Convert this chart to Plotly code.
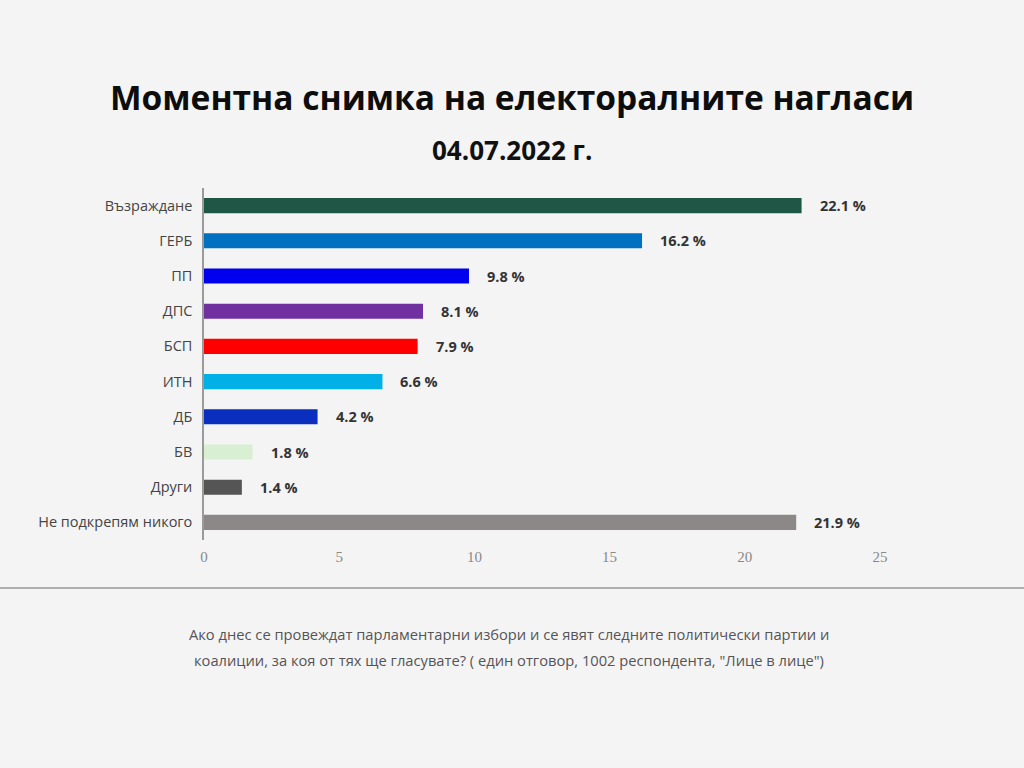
import plotly.graph_objects as go

# данни от графиката
parties = ["Възраждане", "ГЕРБ", "ПП", "ДПС", "БСП", "ИТН", "ДБ", "БВ", "Други",
           "Не подкрепям никого"]
values = [22.1, 16.2, 9.8, 8.1, 7.9, 6.6, 4.2, 1.8, 1.4, 21.9]
colors = ["#1f5746", "#0070c0", "#0000ee", "#7030a0", "#ff0000", "#00b0e6",
          "#0a2fbf", "#d9efd3", "#555555", "#8c8888"]
x_ticks = [0, 5, 10, 15, 20, 25]

title = "Моментна снимка на електоралните нагласи"
subtitle = "04.07.2022 г."
note1 = "Ако днес се провеждат парламентарни избори и се явят следните политически партии и"
note2 = "коалиции, за коя от тях ще гласувате? ( един отговор, 1002 респондента, \"Лице в лице\")"

W, H = 1024, 768
L, R, T, B = 204, 144, 188, 228
pw, ph = W - L - R, H - T - B


def px_y(y):
    # пиксел -> paper координата
    return (H - B - y) / ph


def px_x(x):
    return (x - L) / pw


fig = go.Figure(go.Bar(
    x=values, y=parties, orientation="h",
    marker=dict(color=colors, line=dict(width=0)),
    width=0.43, hoverinfo="x+y",
))

for v, p in zip(values, parties):
    fig.add_annotation(x=v, y=p, text="%.1f %%" % v, showarrow=False,
                       xanchor="left", xshift=16,
                       font=dict(family="Open Sans", size=14.5, color="#333333", weight="bold"))

fig.add_annotation(x=px_x(512), y=px_y(97), xref="paper", yref="paper", text="<b>%s</b>" % title,
                   showarrow=False, xanchor="center", yanchor="middle",
                   font=dict(family="Open Sans", size=33.5, color="#0d0d0d"))
fig.add_annotation(x=px_x(512), y=px_y(150), xref="paper", yref="paper", text="<b>%s</b>" % subtitle,
                   showarrow=False, xanchor="center", yanchor="middle",
                   font=dict(family="Open Sans", size=26, color="#111111"))
for txt, yy in [(note1, 634), (note2, 660)]:
    fig.add_annotation(x=px_x(509), y=px_y(yy), xref="paper", yref="paper", text=txt,
                       showarrow=False, xanchor="center", yanchor="middle",
                       font=dict(family="Open Sans", size=14.7, color="#555555"))

fig.add_shape(type="line", xref="paper", yref="paper",
              x0=px_x(0), x1=px_x(W), y0=px_y(588), y1=px_y(588),
              line=dict(color="#9a9a9a", width=1.5))

fig.update_xaxes(range=[0, 25], tickvals=x_ticks, showgrid=False, zeroline=False,
                 showline=False, ticks="", fixedrange=True, ticklabelstandoff=6,
                 tickfont=dict(family="Liberation Serif", size=15, color="#888888"))
fig.update_yaxes(autorange="reversed", showgrid=False, showline=True, linecolor="#9a9a9a",
                 linewidth=1.5, ticks="", ticklabelstandoff=7, fixedrange=True,
                 tickfont=dict(family="Open Sans", size=14.5, color="#444444"))

fig.update_layout(
    width=W, height=H,
    margin=dict(l=L, r=R, t=T, b=B, autoexpand=False),
    paper_bgcolor="#f4f4f5", plot_bgcolor="#f4f4f5",
    showlegend=False, bargap=0.58,
)

fig.write_html("out.html", config={"displayModeBar": False},
               post_script="document.body.style.margin='0';document.body.style.background='#f4f4f5';")
